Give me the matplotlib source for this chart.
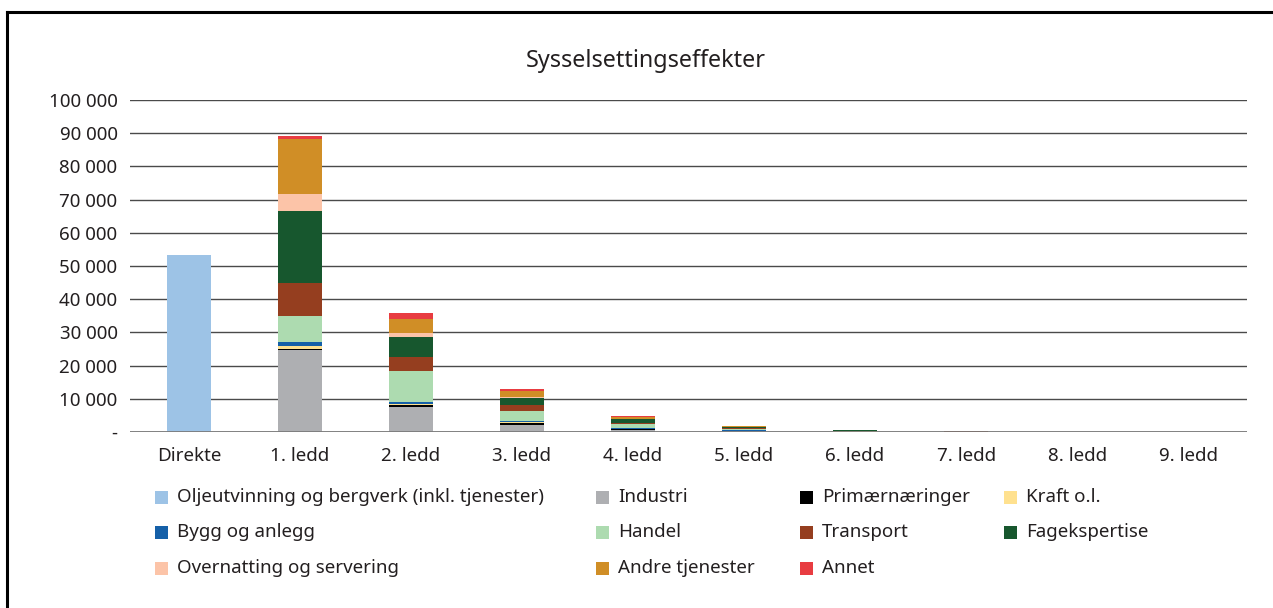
import matplotlib
matplotlib.use("Agg")
import matplotlib.pyplot as plt
from matplotlib.patches import Rectangle
from matplotlib.lines import Line2D
import numpy as np

plt.rcParams['font.family'] = ['Noto Sans', 'DejaVu Sans']

categories = ["Direkte", "1. ledd", "2. ledd", "3. ledd", "4. ledd",
              "5. ledd", "6. ledd", "7. ledd", "8. ledd", "9. ledd"]

sectors = ["Oljeutvinning og bergverk (inkl. tjenester)", "Industri",
           "Primærnæringer", "Kraft o.l.", "Bygg og anlegg", "Handel",
           "Transport", "Fagekspertise", "Overnatting og servering",
           "Andre tjenester", "Annet"]

colors = ["#9DC3E6", "#AEAFB2", "#000000", "#FFE18F", "#1560A8", "#ADDBB0",
          "#953E1F", "#17572E", "#FCC4A8", "#D08E26", "#E83C41"]

olje          = [53300, 0, 0, 0, 0, 0, 0, 0, 0, 0]
industri      = [0, 24800, 7600, 2200, 700, 300, 120, 50, 20, 8]
primaer       = [0, 300, 400, 400, 150, 60, 20, 10, 4, 2]
kraft         = [0, 800, 500, 300, 100, 40, 15, 5, 2, 1]
bygg          = [0, 1100, 600, 500, 150, 60, 25, 10, 4, 2]
handel        = [0, 7900, 9400, 3000, 1200, 450, 170, 70, 28, 12]
transport     = [0, 10000, 4000, 1600, 500, 200, 80, 35, 14, 6]
fagekspertise = [0, 21800, 6200, 2300, 1000, 400, 150, 60, 24, 10]
overnatting   = [0, 5100, 1200, 350, 150, 50, 20, 10, 4, 2]
andre         = [0, 16400, 4100, 1700, 550, 200, 70, 30, 12, 5]
annet         = [0, 900, 1700, 600, 300, 100, 40, 20, 8, 2]

series = [olje, industri, primaer, kraft, bygg, handel, transport,
          fagekspertise, overnatting, andre, annet]

yticks = [0, 10000, 20000, 30000, 40000, 50000, 60000, 70000, 80000, 90000, 100000]
ytick_labels = ["-", "10 000", "20 000", "30 000", "40 000", "50 000",
                "60 000", "70 000", "80 000", "90 000", "100 000"]

W, H = 1273, 608
TEXT = "#231f20"
FS = 13.5

fig = plt.figure(figsize=(W / 100, H / 100), dpi=100)
ax = fig.add_axes([130 / W, 1 - 432 / H, (1247 - 130) / W, (432 - 100) / H])

x = np.arange(len(categories))
bottom = np.zeros(len(categories))
for vals, col in zip(series, colors):
    v = np.array(vals, dtype=float)
    ax.bar(x, v, width=0.4, bottom=bottom, color=col, edgecolor="none", zorder=3)
    bottom += v

ax.set_xlim(-0.53, len(categories) - 0.47)
ax.set_ylim(0, 100000)
ax.set_yticks(yticks)
ax.set_yticklabels(ytick_labels, fontsize=FS, color=TEXT)
ax.set_xticks(x)
ax.set_xticklabels(categories, fontsize=FS, color=TEXT)
ax.tick_params(axis="both", length=0)
ax.tick_params(axis="y", pad=9)
ax.tick_params(axis="x", pad=11)
for s in ax.spines.values():
    s.set_visible(False)
ax.yaxis.grid(True, color="#4a4a4a", linewidth=1.0, zorder=0)
ax.axhline(0, color="#7a7a7a", linewidth=2.0, zorder=4)

fig.text(0.507, 1 - 61 / H, "Sysselsettingseffekter", ha="center", va="center",
         fontsize=16.8, color=TEXT)

# frame (top and left edges)
fig.add_artist(Line2D([7 / W, 1], [1 - 12 / H, 1 - 12 / H], color="black",
                      linewidth=2.2, transform=fig.transFigure))
fig.add_artist(Line2D([7 / W, 7 / W], [1 - 12 / H, 0], color="black",
                      linewidth=2.2, transform=fig.transFigure))

# legend laid out in a 4-column grid
col_x = [155, 596, 800, 1004]
row_y = [497, 532, 568]
box = 13
for i, (name, col) in enumerate(zip(sectors, colors)):
    r, c = divmod(i, 4)
    px, py = col_x[c], row_y[r]
    fig.add_artist(Rectangle((px / W, 1 - (py + box / 2) / H), box / W, box / H,
                             facecolor=col, edgecolor="none",
                             transform=fig.transFigure))
    fig.text((px + box + 9) / W, 1 - py / H, name, ha="left", va="center",
             fontsize=FS, color=TEXT)

fig.savefig("out.png", dpi=100)
